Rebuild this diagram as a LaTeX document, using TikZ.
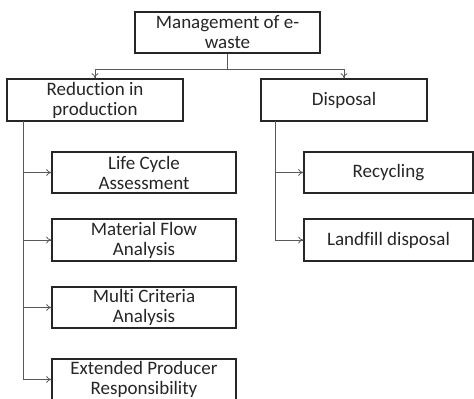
\documentclass[tikz,border=0pt]{standalone}
\usepackage{fontspec}
\setmainfont{Carlito}[Ligatures=NoCommon]
\usetikzlibrary{arrows.meta,positioning}

\begin{document}
\begin{tikzpicture}[
    x=1pt, y=-1pt,
    box/.style={draw=black!85, line width=1.4pt, fill=white, align=center, minimum width=184pt, minimum height=41pt, inner sep=1pt, text=black!85, font=\fontsize{19}{20}\selectfont},
    link/.style={-{To[length=1.8mm,width=2.4mm]}, draw=black!65, line width=0.8pt}
]
\useasboundingbox (0,0) rectangle (474,399);
\node[box, minimum width=185pt] (mgmt) at (227.5,32.5) {Management of e-\\waste};
\node[box, minimum width=176pt, minimum height=42pt] (reduce) at (95,100) {Reduction in\\production};
\node[box, minimum width=166pt, minimum height=42pt] (dispose) at (344,100) {Disposal};
\node[box] (lca) at (144,172.5) {Life Cycle\\Assessment};
\node[box, minimum height=42pt] (mfa) at (144,240) {Material Flow\\Analysis};
\node[box] (mca) at (144,307.5) {Multi Criteria\\Analysis};
\node[box] (epr) at (144,379.5) {Extended Producer\\Responsibility};
\node[box, minimum width=169pt] (recyc) at (388.5,172.5) {Recycling};
\node[box, minimum width=169pt, minimum height=42pt] (landfill) at (388.5,240) {Landfill disposal};
\coordinate (split) at (227.5,69);
\coordinate (ltop) at (23,121);
\coordinate (rtop) at (275,121);
% top level
\draw[link] (mgmt.south) -- (split) -| (reduce.north);
\draw[link] (split) -| (dispose.north);
% left branch
\draw[link] (ltop) |- (lca.west);
\draw[link] (ltop) |- (mfa.west);
\draw[link] (ltop) |- (mca.west);
\draw[link] (ltop) |- (epr.west);
% right branch
\draw[link] (rtop) |- (recyc.west);
\draw[link] (rtop) |- (landfill.west);
\end{tikzpicture}
\end{document}
